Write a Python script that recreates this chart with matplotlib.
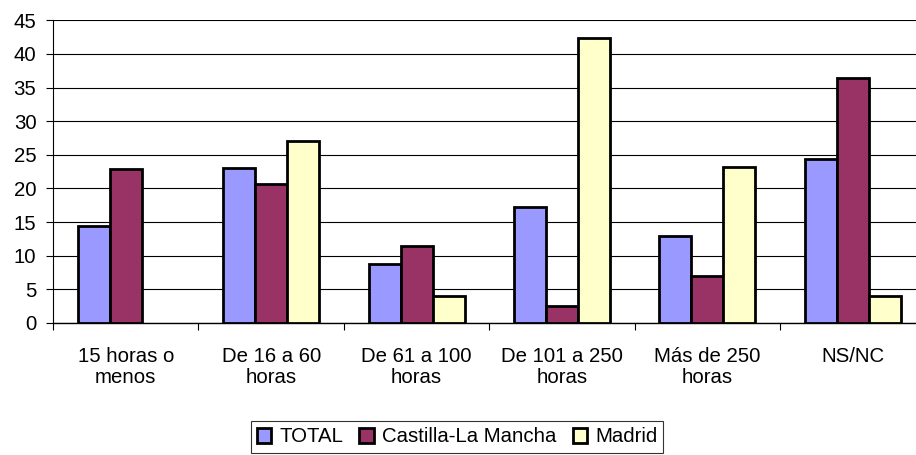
import numpy as np
import matplotlib
matplotlib.use('Agg')
import matplotlib.pyplot as plt

plt.rcParams['font.family'] = ['Liberation Sans', 'DejaVu Sans']

# categorias y valores (%)
categorias = ['15 horas o\nmenos', 'De 16 a 60\nhoras', 'De 61 a 100\nhoras',
              'De 101 a 250\nhoras', 'Más de 250\nhoras', 'NS/NC']
total = [14.4, 23.0, 8.7, 17.3, 13.0, 24.4]
castilla = [22.9, 20.6, 11.5, 2.5, 7.0, 36.4]
madrid = [np.nan, 27.1, 4.0, 42.4, 23.2, 4.0]

series = ['TOTAL', 'Castilla-La Mancha', 'Madrid']
colores = ['#9999FF', '#993366', '#FFFFCC']
fs = 14.7

fig = plt.figure(figsize=(9.16, 4.55), dpi=100)
# plot area runs off the right edge like the original screenshot
ax = fig.add_axes([53/916, 132/455, 872.5/916, 302.7/455])

x = np.arange(len(categorias))
w = 0.22
for i, (vals, nombre, col) in enumerate(zip([total, castilla, madrid], series, colores)):
    ax.bar(x + (i - 1) * w, vals, w, color=col, edgecolor='black',
           linewidth=2.0, label=nombre, zorder=3)

ax.set_xlim(-0.5, len(categorias) - 0.5)
ax.set_ylim(0, 45)
ax.set_yticks(np.arange(0, 46, 5))
ax.yaxis.grid(True, color='black', linewidth=0.8, zorder=0)
ax.set_axisbelow(True)

# ticks between groups, labels at centers
ax.set_xticks(np.arange(-0.5, len(categorias) + 0.5, 1))
ax.set_xticklabels([])
ax.set_xticks(x, minor=True)
ax.set_xticklabels(categorias, minor=True, fontsize=fs, linespacing=1.15)
ax.tick_params(axis='x', which='minor', length=0, pad=17)
ax.tick_params(axis='x', which='major', length=5, direction='out', width=0.8)
ax.tick_params(axis='y', length=5, width=0.8, pad=7, labelsize=fs)

for s in ['top', 'right']:
    ax.spines[s].set_visible(False)
ax.spines['left'].set_linewidth(0.8)
ax.spines['bottom'].set_linewidth(1.0)

leg = fig.legend(loc='center', bbox_to_anchor=(457/916, 18/455), ncol=3,
                 fontsize=fs, frameon=True, fancybox=False, edgecolor='black',
                 handlelength=0.7, handleheight=0.7, handletextpad=0.4,
                 columnspacing=0.8, borderpad=0.3, borderaxespad=0)
leg.get_frame().set_linewidth(0.8)
for h in leg.legend_handles:
    h.set_linewidth(2.0)

fig.savefig('out.png', dpi=100)
